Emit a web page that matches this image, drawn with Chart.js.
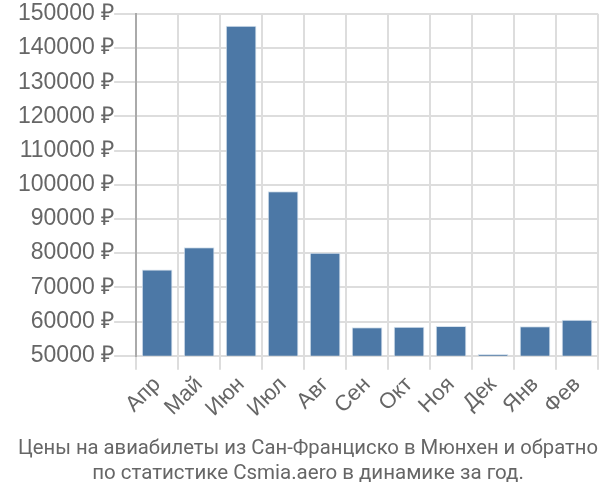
<!DOCTYPE html>
<html>
<head>
<meta charset="utf-8">
<script src="https://cdn.jsdelivr.net/npm/chart.js@4/dist/chart.umd.min.js"></script>
<style>
  html, body { margin: 0; padding: 0; background: #fff; }
  #wrap { width: 600px; height: 500px; }
</style>
</head>
<body>
<div id="wrap"><canvas id="barChart"></canvas></div>
<script>
const months = ['Апр', 'Май', 'Июн', 'Июл', 'Авг', 'Сен', 'Окт', 'Ноя', 'Дек', 'Янв', 'Фев'];
const prices = [75200, 81700, 146500, 98100, 80100, 58300, 58500, 58700, 50500, 58600, 60500];
const yMin = 50000;
const yMax = 150000;
const yStep = 10000;
const titleLines = ['Цены на авиабилеты из Сан-Франциско в Мюнхен и обратно', 'по статистике Csmia.aero в динамике за год.'];

const ctx = document.getElementById('barChart');
const chart = new Chart(ctx, {
    type: 'bar',
    data: {
        labels: months,
        datasets: [{
            label: 'Цена',
            data: prices,
            backgroundColor: '#4c78a6',
            borderColor: '#d6e2ee',
            borderWidth: 1,
            barPercentage: 0.73,
            categoryPercentage: 1.0
        }]
    },
    options: {
        responsive: true,
        maintainAspectRatio: false,
        animation: false,
        layout: {
            padding: { left: 18, right: 2, top: 4, bottom: 14 }
        },
        scales: {
            x: {
                grid: {
                    color: '#dddddd',
                    lineWidth: 2,
                    offset: true,
                    tickLength: 14
                },
                border: { color: '#dddddd', width: 2 },
                ticks: {
                    color: '#666',
                    maxRotation: 45,
                    minRotation: 45,
                    padding: 2,
                    font: { family: 'Liberation Sans', size: 22 }
                }
            },
            y: {
                min: yMin,
                max: yMax,
                grid: {
                    color: '#dddddd',
                    lineWidth: 2,
                    tickLength: 22
                },
                border: { color: '#aaaaaa', width: 2 },
                ticks: {
                    stepSize: yStep,
                    color: '#666',
                    padding: 0,
                    font: { family: 'Liberation Sans', size: 23 },
                    callback: v => v + ' ₽'
                }
            }
        },
        plugins: {
            legend: { display: false },
            tooltip: { enabled: false },
            title: {
                display: true,
                position: 'bottom',
                text: titleLines,
                color: '#666',
                font: { family: 'Roboto', size: 20.5, weight: 'normal', lineHeight: 1.22 },
                padding: { top: 12, bottom: 0 }
            }
        }
    }
});
</script>
</body>
</html>
